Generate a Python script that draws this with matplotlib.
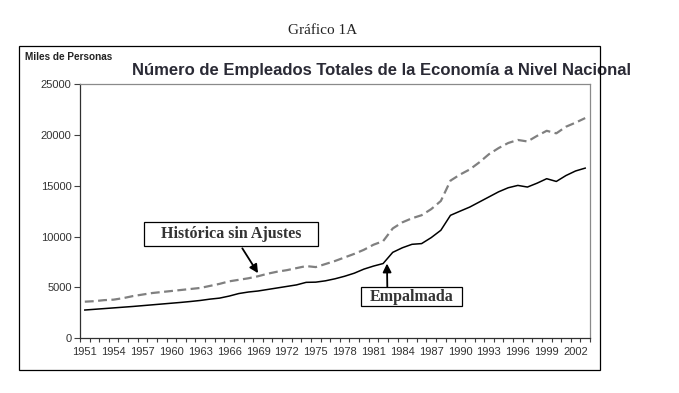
import matplotlib
matplotlib.use("Agg")
import matplotlib.pyplot as plt
from matplotlib.patches import Rectangle
import numpy as np

years = list(range(1951, 2004))
empalmada = [2780, 2850, 2920, 2990, 3060, 3130, 3210, 3290, 3370, 3450,
             3530, 3620, 3720, 3850, 3950, 4150, 4400, 4550, 4650, 4800,
             4950, 5100, 5250, 5500, 5520, 5650, 5850, 6100, 6400, 6800,
             7100, 7350, 8450, 8900, 9240, 9310, 9900, 10620, 12090, 12500,
             12900, 13400, 13900, 14400, 14800, 15030, 14870, 15250, 15690, 15420,
             16000, 16450, 16730]
historica = [3600, 3650, 3750, 3800, 3950, 4150, 4300, 4450, 4550, 4650,
             4750, 4850, 4950, 5150, 5350, 5600, 5750, 5900, 6100, 6350,
             6550, 6700, 6900, 7100, 7000, 7300, 7600, 7950, 8300, 8700,
             9200, 9550, 10800, 11400, 11800, 12100, 12700, 13500, 15500, 16100,
             16600, 17300, 18100, 18700, 19200, 19500, 19350, 19900, 20400, 20150,
             20800, 21200, 21650]
yticks = [0, 5000, 10000, 15000, 20000, 25000]
title = "Número de Empleados Totales de la Economía a Nivel Nacional"
ylabel = "Miles de Personas"
header = "Gráfico 1A"
label_hist = "Histórica sin Ajustes"
label_emp = "Empalmada"

W, H = 679, 393
fig = plt.figure(figsize=(W / 100, H / 100), dpi=100)
fig.patch.set_facecolor("white")

def fx(px):
    return px / W

def fy(py):
    return 1 - py / H

def frect(x0, y0, x1, y1, lw=0.9):
    fig.patches.append(Rectangle((fx(x0), fy(y1)), fx(x1) - fx(x0), fy(y0) - fy(y1),
                                 transform=fig.transFigure, facecolor="white",
                                 fill=False, edgecolor="black", linewidth=lw, zorder=5))

# outer frame
frect(19, 46, 600, 370)

ax = fig.add_axes([fx(80), fy(338.3), fx(590) - fx(80), fy(84) - fy(338.3)])
x = np.arange(len(years))
ax.plot(x, historica, color="#808080", linewidth=1.6, linestyle=(0, (4, 2)))
ax.plot(x, empalmada, color="black", linewidth=1.1)

ax.set_xlim(-0.5, len(years) - 0.5)
ax.set_ylim(0, 25000)
ax.set_yticks(yticks)
ax.set_yticklabels([str(v) for v in yticks], fontsize=8, color="#333333",
                   family="Liberation Sans")
ax.tick_params(axis="y", direction="out", length=4, width=0.8, color="#404040", pad=2)

# category boundaries as ticks, labels every 3 years centered
ax.set_xticks(np.arange(len(years) + 1) - 0.5)
ax.set_xticklabels([])
ax.tick_params(axis="x", which="major", direction="out", length=3, width=0.8, color="#404040")
lab_idx = list(range(0, len(years), 3))
ax.set_xticks(lab_idx, minor=True)
ax.set_xticklabels([str(years[i]) for i in lab_idx], minor=True, fontsize=8,
                   color="#333333", family="Liberation Sans")
ax.tick_params(axis="x", which="minor", length=0, pad=6)

for s in ["top", "right"]:
    ax.spines[s].set_color("#8a8a8a")
    ax.spines[s].set_linewidth(0.9)
for s in ["left", "bottom"]:
    ax.spines[s].set_color("#303030")
    ax.spines[s].set_linewidth(0.9)

fig.text(fx(323), fy(31), header, ha="center", va="center", fontsize=11,
         family="Liberation Serif", color="#222222")
fig.text(fx(381.5), fy(71), title, ha="center", va="center", fontsize=12,
         fontweight="bold", family="Liberation Sans", color="#2a2a35")
fig.text(fx(25), fy(57), ylabel, ha="left", va="center", fontsize=7.2,
         fontweight="bold", family="Liberation Sans", color="#222222")

# annotation boxes
hist_box = Rectangle((fx(144.3), fy(246)), fx(317.7) - fx(144.3), fy(221.7) - fy(246),
                     transform=fig.transFigure, facecolor="white", edgecolor="black",
                     linewidth=0.9, zorder=5)
emp_box = Rectangle((fx(361), fy(306)), fx(462.3) - fx(361), fy(286.7) - fy(306),
                    transform=fig.transFigure, facecolor="white", edgecolor="black",
                    linewidth=0.9, zorder=5)
fig.patches.extend([hist_box, emp_box])
fig.text(fx(231), fy(234.5), label_hist, ha="center", va="center", fontsize=11.5,
         fontweight="bold", family="Liberation Serif", color="#333333", zorder=6)
fig.text(fx(411.7), fy(296.8), label_emp, ha="center", va="center", fontsize=11.5,
         fontweight="bold", family="Liberation Serif", color="#333333", zorder=6)

arrowprops = dict(arrowstyle="-|>,head_length=0.5,head_width=0.25", color="black",
                  linewidth=1.3, shrinkA=0, shrinkB=0)
ax.annotate("", xy=(18, historica[18] + 300), xycoords="data",
            xytext=(fx(242.3), fy(248.3)), textcoords="figure fraction",
            arrowprops=arrowprops)
ax.annotate("", xy=(31.4, empalmada[31]), xycoords="data",
            xytext=(fx(387.3), fy(286.7)), textcoords="figure fraction",
            arrowprops=arrowprops)

fig.savefig("out.png", dpi=100, facecolor="white")
